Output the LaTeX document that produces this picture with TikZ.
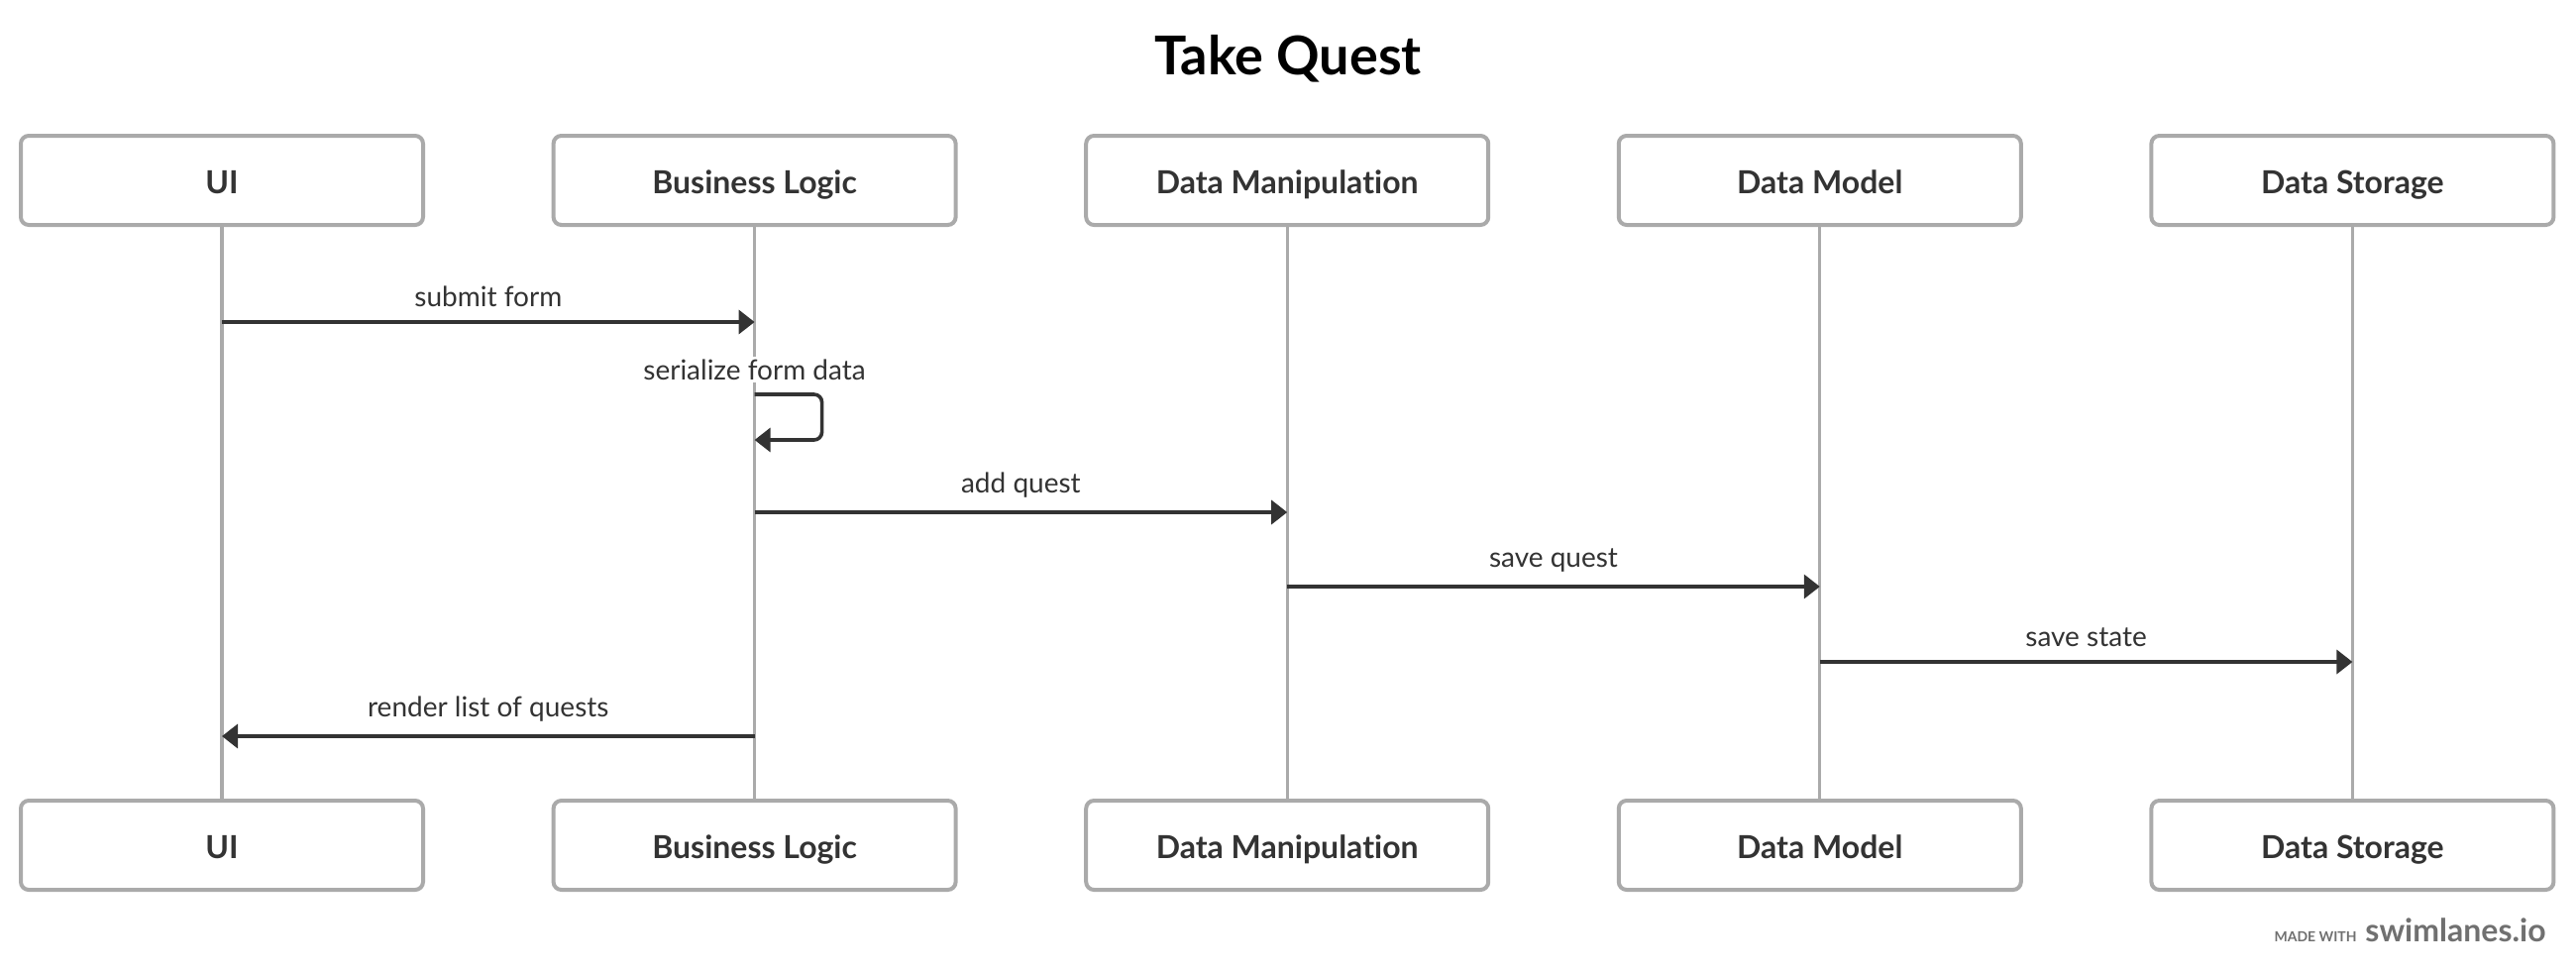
\documentclass[tikz,border=0pt]{standalone}
\usepackage{fontspec}
\setmainfont[Ligatures=NoCommon]{Lato}
\usetikzlibrary{positioning, arrows.meta, calc}
\definecolor{laneGray}{RGB}{170, 170, 170}
\definecolor{inkDark}{RGB}{51, 51, 51}
\definecolor{markGray}{RGB}{112, 112, 112}

\tikzset{
  actor/.style={draw=laneGray, line width=2pt, rounded corners=4pt, fill=white,
    minimum width=203pt, minimum height=45pt, text=inkDark,
    text height=15pt, text depth=2pt,
    font=\fontsize{16}{18}\selectfont\bfseries},
  lane/.style={draw=laneGray, line width=1.6pt},
  msg/.style={draw=inkDark, line width=1.8pt, -{Triangle[length=8pt, width=12pt]}},
  msglabel/.style={text=inkDark, fill=white, inner sep=1.5pt,
    font=\fontsize{14}{16}\selectfont}
}

\begin{document}
\begin{tikzpicture}[x=0.5pt, y=-0.5pt]
    \useasboundingbox (0,0) rectangle (2600,982);

    \node[font=\fontsize{27}{30}\selectfont\bfseries] (title) at (1300,59) {Take Quest};

    % actors, top row
    \node[actor] (ui-top) at (224,182) {UI};
    \node[actor, right=63.8pt of ui-top] (bl-top) {Business Logic};
    \node[actor, right=63.8pt of bl-top] (dm-top) {Data Manipulation};
    \node[actor, right=63.8pt of dm-top] (md-top) {Data Model};
    \node[actor, right=63.8pt of md-top] (ds-top) {Data Storage};

    % actors, bottom row
    \node[actor, below=288.5pt of ui-top] (ui-bot) {UI};
    \node[actor, below=288.5pt of bl-top] (bl-bot) {Business Logic};
    \node[actor, below=288.5pt of dm-top] (dm-bot) {Data Manipulation};
    \node[actor, below=288.5pt of md-top] (md-bot) {Data Model};
    \node[actor, below=288.5pt of ds-top] (ds-bot) {Data Storage};

    % lifelines
    \foreach \a in {ui, bl, dm, md, ds}
        \draw[lane] (\a-top.south) -- (\a-bot.north);

    % message rows
    \coordinate (r-submit) at (0,325);
    \coordinate (r-loopa) at (0,398);
    \coordinate (r-loopb) at (0,444);
    \coordinate (r-add) at (0,517);
    \coordinate (r-save) at (0,592);
    \coordinate (r-state) at (0,668);
    \coordinate (r-render) at (0,743);

    \draw[msg] (ui-top |- r-submit) -- node[msglabel, above=5pt] {submit form} (bl-top |- r-submit);
    \node[msglabel] (ser) at ($(bl-top |- r-loopa)+(0,-25)$) {serialize form data};
    \draw[msg, rounded corners=4pt] (bl-top |- r-loopa) -- ++(68,0) |- (bl-top |- r-loopb);
    \draw[msg] (bl-top |- r-add) -- node[msglabel, above=5pt] {add quest} (dm-top |- r-add);
    \draw[msg] (dm-top |- r-save) -- node[msglabel, above=5pt] {save quest} (md-top |- r-save);
    \draw[msg] (md-top |- r-state) -- node[msglabel, above=5pt] {save state} (ds-top |- r-state);
    \draw[msg] (bl-top |- r-render) -- node[msglabel, above=5pt] {render list of quests} (ui-top |- r-render);

    % watermark
    \node[anchor=base east, text=markGray, inner sep=0pt,
        font=\fontsize{16}{18}\selectfont\bfseries] (brand) at (2570,950) {swimlanes.io};
    \node[anchor=base east, text=markGray, inner sep=0pt,
        font=\fontsize{7}{8}\selectfont\bfseries] (made) at ($(brand.base west)+(-8,0)$) {MADE WITH};
\end{tikzpicture}
\end{document}
